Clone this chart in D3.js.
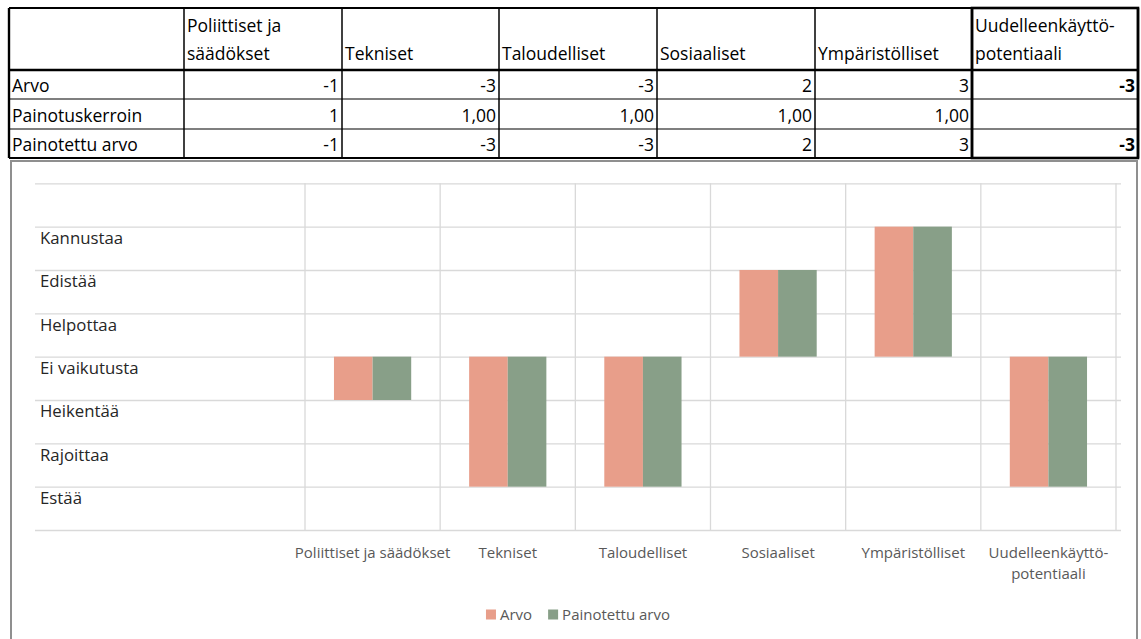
<!DOCTYPE html>
<html>
<head>
<meta charset="utf-8">
<script src="https://cdn.jsdelivr.net/npm/d3@7"></script>
<style>
  html, body { margin: 0; padding: 0; background: #fff; }
  svg { display: block; }
</style>
</head>
<body>
<svg id="chart" width="1141" height="639"></svg>
<script>
// Arviointikategoriat ja niiden otsikot (taulukossa rivitetyt otsikot)
const categories = ["Poliittiset ja säädökset", "Tekniset", "Taloudelliset", "Sosiaaliset", "Ympäristölliset", "Uudelleenkäyttöpotentiaali"];
const headerLines = [["Poliittiset ja", "säädökset"], ["Tekniset"], ["Taloudelliset"], ["Sosiaaliset"], ["Ympäristölliset"], ["Uudelleenkäyttö-", "potentiaali"]];
const axisLines = [["Poliittiset ja säädökset"], ["Tekniset"], ["Taloudelliset"], ["Sosiaaliset"], ["Ympäristölliset"], ["Uudelleenkäyttö-", "potentiaali"]];

// Arvot
const arvo = [-1, -3, -3, 2, 3, -3];
const painotuskerroin = ["1", "1,00", "1,00", "1,00", "1,00", ""];
const painotettuArvo = [-1, -3, -3, 2, 3, -3];

// Sarjat
const seriesNames = ["Arvo", "Painotettu arvo"];
const seriesColors = ["#e89e8a", "#889f88"];

// Asteikon sanalliset tasot
const levelValues = [3, 2, 1, 0, -1, -2, -3];
const levelLabels = ["Kannustaa", "Edistää", "Helpottaa", "Ei vaikutusta", "Heikentää", "Rajoittaa", "Estää"];
const gridValues = [4, 3, 2, 1, 0, -1, -2, -3, -4];

const svg = d3.select("#chart");
const font = "'Open Sans', sans-serif";

/* ---------- Taulukko ---------- */
const colX = [9, 184, 342, 499, 657, 815, 972, 1138];
const rowY = [8, 70, 99, 129, 158];
const table = svg.append("g").attr("font-family", font).attr("font-size", 17.5).attr("fill", "#000");

// solujen viivat
colX.forEach(x => table.append("line").attr("x1", x).attr("x2", x).attr("y1", rowY[0]).attr("y2", rowY[4])
  .attr("stroke", "#000").attr("stroke-width", (x === colX[0] || x >= 972) ? 2.4 : 1.5));
rowY.forEach((y, i) => table.append("line").attr("x1", colX[0]).attr("x2", colX[7]).attr("y1", y).attr("y2", y)
  .attr("stroke", "#000").attr("stroke-width", (i === 1) ? 2.6 : (i === 0 || i === 4 ? 1.8 : 1.2)));
// viimeisen sarakkeen paksu kehys
table.append("rect").attr("x", 972).attr("y", 8).attr("width", 1138 - 972).attr("height", 150)
  .attr("fill", "none").attr("stroke", "#000").attr("stroke-width", 2.6);

// otsikkorivi
headerLines.forEach((lines, i) => {
  const n = lines.length;
  lines.forEach((t, j) => {
    table.append("text").attr("x", colX[i + 1] + 3).attr("y", 60 - (n - 1 - j) * 28).text(t);
  });
});

const rowNames = ["Arvo", "Painotuskerroin", "Painotettu arvo"];
const rowValues = [arvo.map(String), painotuskerroin, painotettuArvo.map(String)];
rowNames.forEach((name, r) => {
  const base = rowY[r + 2] - 7;
  table.append("text").attr("x", colX[0] + 3).attr("y", base).text(name);
  rowValues[r].forEach((v, c) => {
    table.append("text").attr("x", colX[c + 2] - 3).attr("y", base).attr("text-anchor", "end")
      .attr("font-weight", c === 5 ? "bold" : "normal").text(v);
  });
});

/* ---------- Kaavio ---------- */
svg.append("rect").attr("x", 11).attr("y", 161).attr("width", 1126).attr("height", 500)
  .attr("fill", "#fff").attr("stroke", "#8f8f8f").attr("stroke-width", 2);

const gridLeft = 35, gridRight = 1121;
const x = d3.scaleBand().domain(categories).range([305, 1116]).paddingInner(0).paddingOuter(0);
const y = d3.scaleLinear().domain([-4, 4]).range([530, 183.3]);
const barW = x.bandwidth() / 3.5;
const x1 = d3.scaleBand().domain(seriesNames).range([0.75 * barW, 2.75 * barW]);

const plot = svg.append("g");

// vaakasuorat apuviivat
plot.append("g")
  .attr("transform", `translate(${gridRight},0)`)
  .call(d3.axisLeft(y).tickValues(gridValues).tickSize(gridRight - gridLeft).tickFormat(""))
  .call(g => g.select(".domain").remove())
  .call(g => g.selectAll(".tick line").attr("stroke", "#d9d9d9").attr("stroke-width", 1.3));

// pystysuorat apuviivat luokkien rajoilla
const bounds = categories.map(c => x(c)).concat([x.range()[1]]);
plot.append("g").selectAll("line").data(bounds).join("line")
  .attr("x1", d => d).attr("x2", d => d).attr("y1", y(4)).attr("y2", y(-4))
  .attr("stroke", "#d9d9d9").attr("stroke-width", 1.3);

// pylväät
const rows = categories.map((c, i) => ({ cat: c, values: [arvo[i], painotettuArvo[i]] }));
plot.append("g").selectAll("g").data(rows).join("g")
  .attr("transform", d => `translate(${x(d.cat)},0)`)
  .selectAll("rect").data(d => d.values.map((v, k) => ({ key: seriesNames[k], v, k })))
  .join("rect")
  .attr("x", d => x1(d.key))
  .attr("width", x1.bandwidth())
  .attr("y", d => y(Math.max(0, d.v)))
  .attr("height", d => Math.abs(y(d.v) - y(0)))
  .attr("fill", d => seriesColors[d.k]);

// tasojen sanalliset nimet
plot.append("g").attr("font-family", font).attr("font-size", 16.8).attr("fill", "#262626")
  .selectAll("text").data(levelValues).join("text")
  .attr("x", 40).attr("y", d => y(d) + 17.5)
  .text((d, i) => levelLabels[i]);

// luokka-akselin nimet
const xAxis = plot.append("g").attr("transform", `translate(0,${y(-4)})`)
  .call(d3.axisBottom(x).tickSize(0).tickFormat(""))
  .call(g => g.select(".domain").remove());
xAxis.selectAll(".tick").each(function (d, i) {
  const t = d3.select(this).append("text").attr("fill", "#595959").attr("font-family", font)
    .attr("font-size", 15).attr("text-anchor", "middle");
  axisLines[i].forEach((line, j) => t.append("tspan").attr("x", 0).attr("y", 28 + j * 21).text(line));
});

// selite
const legend = svg.append("g").attr("font-family", font).attr("font-size", 15).attr("fill", "#595959");
let lx = 0;
seriesNames.forEach((name, k) => {
  const g = legend.append("g");
  g.append("rect").attr("x", 0).attr("y", -10.5).attr("width", 10).attr("height", 10).attr("fill", seriesColors[k]);
  const t = g.append("text").attr("x", 14).attr("y", 0).text(name);
  const w = 14 + t.node().getComputedTextLength();
  g.attr("transform", `translate(${lx},0)`);
  lx += w + 16;
});
const legendW = lx - 16;
legend.attr("transform", `translate(${578 - legendW / 2},${620})`);
</script>
</body>
</html>
